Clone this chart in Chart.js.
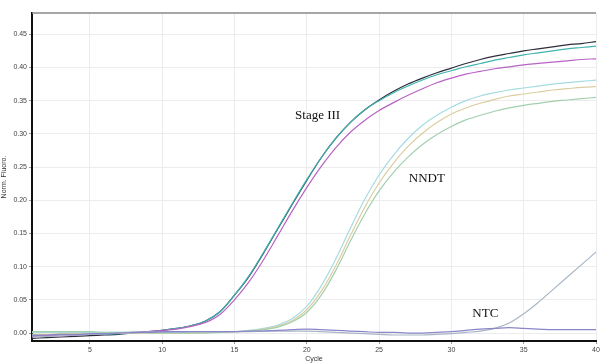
<!DOCTYPE html>
<html>
<head>
<meta charset="utf-8">
<script src="https://cdn.jsdelivr.net/npm/chart.js@4"></script>
<style>
  html, body { margin: 0; padding: 0; background: #fff; }
  #wrap { width: 603px; height: 363px; }
</style>
</head>
<body>
<div id="wrap"><canvas id="myChart" width="603" height="363"></canvas></div>
<script>
// cycle numbers (x)
const cycles = [1,2,3,4,5,6,7,8,9,10,11,12,13,14,15,16,17,18,19,20,
                21,22,23,24,25,26,27,28,29,30,31,32,33,34,35,36,37,38,39,40];

// Stage III samples
const stageBlack = [-0.008,-0.007,-0.006,-0.005,-0.004,-0.003,-0.002,0.000,0.002,0.004,
                    0.007,0.011,0.018,0.032,0.057,0.085,0.120,0.157,0.194,0.230,
                    0.264,0.293,0.317,0.336,0.351,0.364,0.375,0.384,0.392,0.399,
                    0.406,0.412,0.417,0.421,0.425,0.428,0.431,0.434,0.436,0.439];
const stageTeal  = [-0.004,-0.004,-0.003,-0.003,-0.002,-0.002,-0.001,0.001,0.002,0.004,
                    0.007,0.011,0.018,0.032,0.057,0.086,0.121,0.158,0.195,0.231,
                    0.264,0.293,0.317,0.336,0.350,0.362,0.372,0.381,0.389,0.395,
                    0.401,0.406,0.411,0.415,0.419,0.422,0.425,0.428,0.430,0.432];
const stageMagenta = [-0.005,-0.004,-0.004,-0.003,-0.002,-0.001,0.000,0.001,0.002,0.004,
                      0.006,0.010,0.016,0.028,0.050,0.077,0.110,0.147,0.184,0.219,
                      0.251,0.279,0.302,0.320,0.335,0.347,0.358,0.368,0.377,0.384,
                      0.390,0.394,0.398,0.401,0.404,0.406,0.408,0.410,0.412,0.413];

// NNDT samples
const nndtCyan  = [0.001,0.001,0.001,0.001,0.001,0.001,0.001,0.001,0.001,0.001,
                   0.001,0.001,0.001,0.001,0.002,0.004,0.007,0.012,0.022,0.040,
                   0.071,0.111,0.157,0.201,0.238,0.268,0.293,0.313,0.328,0.340,
                   0.350,0.357,0.362,0.366,0.369,0.372,0.375,0.377,0.379,0.381];
const nndtTan   = [-0.002,-0.002,-0.001,-0.001,-0.001,0.000,0.000,0.000,0.000,0.000,
                   0.000,0.000,0.001,0.001,0.002,0.003,0.006,0.010,0.019,0.035,
                   0.063,0.101,0.146,0.189,0.226,0.256,0.281,0.301,0.317,0.330,
                   0.339,0.346,0.352,0.357,0.360,0.363,0.366,0.368,0.370,0.371];
const nndtGreen = [0.002,0.002,0.002,0.002,0.002,0.001,0.001,0.001,0.000,0.000,
                   0.000,0.000,0.000,0.001,0.002,0.003,0.005,0.009,0.017,0.031,
                   0.057,0.094,0.138,0.179,0.214,0.242,0.265,0.284,0.299,0.311,
                   0.321,0.328,0.334,0.339,0.343,0.346,0.349,0.351,0.353,0.355];

// NTC samples
const ntcGrey = [-0.006,-0.005,-0.004,-0.003,-0.002,-0.001,0.000,0.000,0.001,0.001,
                 0.001,0.002,0.002,0.002,0.002,0.002,0.003,0.003,0.003,0.003,
                 0.002,0.001,0.000,-0.001,-0.002,-0.003,-0.003,-0.003,-0.002,-0.001,
                 0.001,0.003,0.007,0.015,0.029,0.046,0.065,0.084,0.103,0.122];
const ntcBlue = [-0.003,-0.003,-0.002,-0.002,-0.001,-0.001,0.000,0.001,0.001,0.002,
                 0.002,0.002,0.002,0.002,0.002,0.003,0.003,0.004,0.005,0.006,
                 0.005,0.004,0.003,0.002,0.001,0.001,0.000,0.000,0.001,0.002,
                 0.004,0.006,0.007,0.008,0.007,0.006,0.005,0.005,0.005,0.005];

// axis ticks
const xTicks = [5,10,15,20,25,30,35,40];
const yTicks = [0,0.05,0.10,0.15,0.20,0.25,0.30,0.35,0.40,0.45];

// text labels on the plot
const noteText = ['Stage III', 'NNDT', 'NTC'];
const noteX = [20.75, 28.3, 32.35];
const noteY = [0.328, 0.233, 0.029];

function pts(vals) {
  return cycles.map((c, i) => ({x: c, y: vals[i]}));
}

function line(vals, color) {
  return {
    data: pts(vals),
    borderColor: color,
    borderWidth: 1.2,
    pointRadius: 0,
    fill: false,
    cubicInterpolationMode: 'monotone'
  };
}

const notes = {
  id: 'notes',
  afterDatasetsDraw(chart) {
    const c = chart.ctx, xs = chart.scales.x, ys = chart.scales.y;
    c.save();
    c.font = '13px "Liberation Serif"';
    c.fillStyle = '#111';
    c.textAlign = 'center';
    c.textBaseline = 'middle';
    noteText.forEach((t, i) => {
      c.fillText(t, xs.getPixelForValue(noteX[i]), ys.getPixelForValue(noteY[i]));
    });
    // top frame line
    const a = chart.chartArea;
    c.strokeStyle = '#888';
    c.lineWidth = 1.5;
    c.beginPath();
    c.moveTo(a.left, a.top);
    c.lineTo(a.right, a.top);
    c.stroke();
    c.restore();
  }
};

const ctx1 = document.getElementById('myChart').getContext('2d');
const graph = new Chart(ctx1, {
  type: 'line',
  data: {
    datasets: [
      line(ntcBlue, '#8a86c8'),
      line(ntcGrey, '#a9b6c6'),
      line(nndtGreen, '#a3cfae'),
      line(nndtTan, '#dccd9f'),
      line(nndtCyan, '#a6dbe0'),
      line(stageMagenta, '#b763c4'),
      line(stageTeal, '#40b4b0'),
      line(stageBlack, '#2d2d3c')
    ]
  },
  options: {
    responsive: false,
    animation: false,
    layout: { padding: { top: 13, right: 7, left: 0, bottom: 0 } },
    plugins: { legend: { display: false }, tooltip: { enabled: false } },
    scales: {
      x: {
        type: 'linear',
        min: 1,
        max: 40,
        afterBuildTicks: s => { s.ticks = xTicks.map(v => ({value: v})); },
        afterFit: s => { s.height = 22; },
        grid: { color: '#ececec', tickLength: 3, tickColor: '#999' },
        border: { color: '#111', width: 2 },
        ticks: { font: { size: 7, family: 'Arial' }, color: '#444', padding: 2, maxRotation: 0 },
        title: { display: true, text: 'Cycle', font: { size: 7, family: 'Arial' }, color: '#333', padding: { top: 0, bottom: 0 } }
      },
      y: {
        min: -0.012,
        max: 0.482,
        afterBuildTicks: s => { s.ticks = yTicks.map(v => ({value: v})); },
        afterFit: s => { s.width = 32; },
        grid: { color: '#ececec', tickLength: 3, tickColor: '#999' },
        border: { color: '#111', width: 2 },
        ticks: { font: { size: 7, family: 'Arial' }, color: '#444', padding: 2,
                 callback: v => v.toFixed(2) },
        title: { display: true, text: 'Norm. Fluoro.', font: { size: 7, family: 'Arial' }, color: '#333', padding: { top: 0, bottom: 0 } }
      }
    }
  },
  plugins: [notes]
});
</script>
</body>
</html>
